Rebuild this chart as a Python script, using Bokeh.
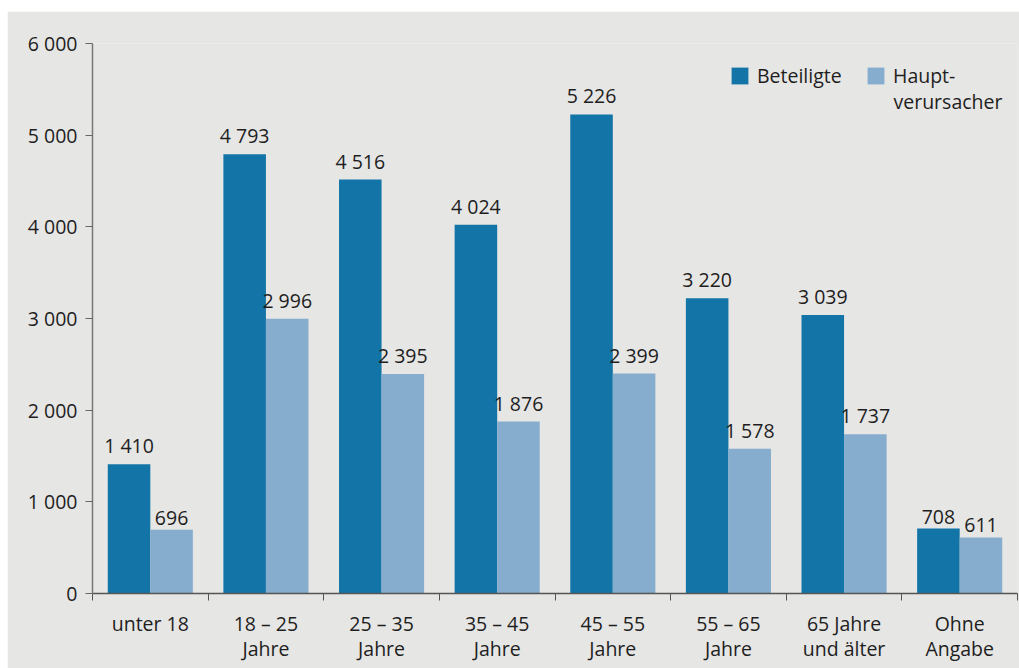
from bokeh.plotting import figure
from bokeh.models import (ColumnDataSource, Range1d, FixedTicker, Legend, LegendItem, Label)
from bokeh.transform import dodge
from bokeh.core.properties import value
from bokeh.embed import file_html
from bokeh.resources import INLINE

categories = ["unter 18", "18 – 25\nJahre", "25 – 35\nJahre", "35 – 45\nJahre",
              "45 – 55\nJahre", "55 – 65\nJahre", "65 Jahre\nund älter", "Ohne\nAngabe"]
beteiligte = [1410, 4793, 4516, 4024, 5226, 3220, 3039, 708]
hauptverursacher = [696, 2996, 2395, 1876, 2399, 1578, 1737, 611]
y_ticks = [0, 1000, 2000, 3000, 4000, 5000, 6000]

def fmt(v):
    return f"{v:,}".replace(",", " ")

FONT = "Open Sans"
FS = "19.5px"
BG = "#e6e6e5"
DARK = "#1375a7"
LIGHT = "#86adcd"
TXT = "#1e1e1e"

xs = [i + 0.5 for i in range(len(categories))]
src = ColumnDataSource(dict(
    x=xs, b=beteiligte, h=hauptverursacher,
    bl=[fmt(v) for v in beteiligte], hl=[fmt(v) for v in hauptverursacher]))

p = figure(width=1012, height=657, output_backend="svg", toolbar_location=None,
           x_range=Range1d(0, len(categories)), y_range=Range1d(0, 6000))
p.margin = (11, 0, 0, 7)
p.background_fill_color = BG
p.border_fill_color = BG
p.outline_line_color = None
p.min_border_left = 85
p.min_border_right = 2
p.min_border_top = 32
p.min_border_bottom = 75
p.xgrid.visible = False
p.ygrid.visible = False

w = 0.368
off = 0.184
r1 = p.vbar(x=dodge("x", -off), top="b", width=w, source=src, color=DARK, line_color=None)
r2 = p.vbar(x=dodge("x", off), top="h", width=w, source=src, color=LIGHT, line_color=None)

for col, lab, d in (("b", "bl", -off), ("h", "hl", off)):
    p.text(x=dodge("x", d), y=col, text=lab, source=src, text_align="center",
           text_baseline="bottom", y_offset=-5, text_font=value(FONT),
           text_font_size=FS, text_color=TXT)

# x axis
xa = p.xaxis[0]
xa.ticker = FixedTicker(ticks=xs, minor_ticks=list(range(len(categories) + 1)))
xa.major_label_overrides = {x: c for x, c in zip(xs, categories)}
xa.major_tick_out = 0
xa.major_tick_in = 0
xa.minor_tick_out = 7
xa.minor_tick_in = 0
xa.minor_tick_line_color = "#555555"
xa.axis_line_color = "#555555"
xa.axis_line_width = 1.5
xa.major_label_text_font = FONT
xa.major_label_text_font_size = FS
xa.major_label_text_color = TXT
xa.major_label_text_line_height = 0.95
xa.major_label_standoff = 9

# y axis
ya = p.yaxis[0]
ya.ticker = FixedTicker(ticks=y_ticks)
ya.major_label_overrides = {t: fmt(t) for t in y_ticks}
ya.minor_tick_line_color = None
ya.major_tick_out = 7
ya.major_tick_in = 0
ya.major_tick_line_color = "#666666"
ya.axis_line_color = "#777777"
ya.axis_line_width = 1.5
ya.major_label_text_font = FONT
ya.major_label_text_font_size = FS
ya.major_label_text_color = TXT
ya.major_label_standoff = 8

def make_legend(label, r, loc):
    lg = Legend(items=[LegendItem(label=label, renderers=[r])], location=loc)
    lg.background_fill_alpha = 0
    lg.border_line_color = None
    lg.label_text_font = FONT
    lg.label_text_font_size = FS
    lg.label_text_color = TXT
    lg.glyph_width = 21
    lg.glyph_height = 21
    lg.label_height = 21
    lg.label_standoff = 7
    lg.margin = 0
    lg.padding = 0
    return lg

p.add_layout(make_legend("Beteiligte", r1, (637, 504)))
p.add_layout(make_legend("Haupt-", r2, (773, 504)))
p.add_layout(Label(x=801, y=492, x_units="screen", y_units="screen", text="verursacher",
                   text_baseline="middle", text_font=FONT, text_font_size=FS,
                   text_color=TXT))

open("out.html", "w").write(file_html(p, INLINE))
